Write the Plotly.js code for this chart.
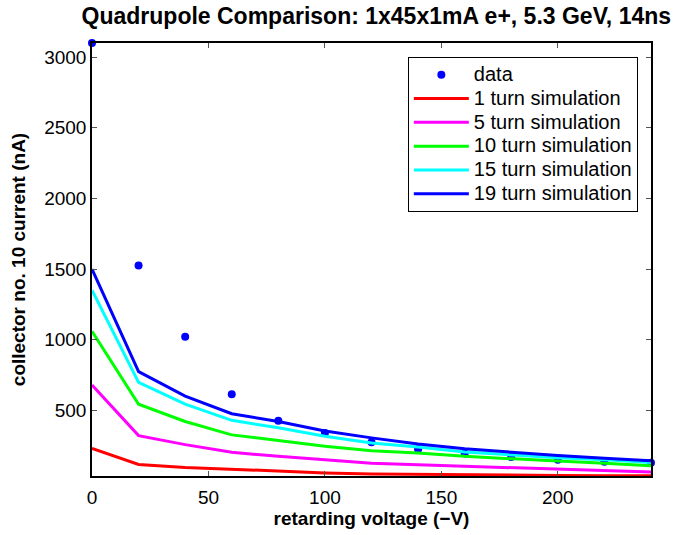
<!DOCTYPE html>
<html><head><meta charset="utf-8">
<script src="https://cdn.plot.ly/plotly-3.0.1.min.js"></script>
<style>body{margin:0;padding:0;background:#fff}#chart{width:683px;height:535px}</style>
</head><body><div id="chart"></div>
<script>
const voltage = [0, 20, 40, 60, 80, 100, 120, 140, 160, 180, 200, 220, 240];
const dataCurrent = [3100, 1525, 1021, 614, 426, 340, 274, 225, 195, 170, 150, 136, 128];
const sim1 = [231, 117, 96, 84, 67, 57, 50, 46, 43, 41, 39, 37, 36];
const sim5 = [679, 321, 257, 203, 174, 150, 126, 114, 104, 95, 84, 72, 64];
const sim10 = [1060, 543, 421, 326, 286, 246, 214, 198, 174, 155, 141, 126, 107];
const sim15 = [1350, 698, 543, 429, 376, 317, 269, 240, 205, 184, 164, 150, 131];
const sim19 = [1500, 774, 600, 476, 421, 353, 305, 262, 228, 203, 180, 160, 143];
const dataName = 'data';
const seriesNames = ['1 turn simulation', '5 turn simulation', '10 turn simulation', '15 turn simulation', '19 turn simulation'];
const seriesColors = ['#ff0000', '#ff00ff', '#00ff00', '#00ffff', '#0000ff'];
const xTicks = [0, 50, 100, 150, 200];
const yTicks = [500, 1000, 1500, 2000, 2500, 3000];

const font = 'Liberation Sans, Arial, Helvetica, sans-serif';
const big = s => '<span style="font-size:20px">' + s + '</span>';
const sims = [sim1, sim5, sim10, sim15, sim19];
const traces = [{
  x: voltage, y: dataCurrent, name: big(dataName), mode: 'markers', type: 'scatter',
  marker: {color: '#0000ff', size: 8}, cliponaxis: false
}];
sims.forEach((s, i) => traces.push({
  x: voltage, y: s, name: big(seriesNames[i]), mode: 'lines', type: 'scatter',
  line: {color: seriesColors[i], width: 3}, cliponaxis: false
}));

const axisCommon = {
  showline: true, linecolor: '#000', linewidth: 1.5, mirror: 'ticks',
  ticks: 'inside', ticklen: 5, tickcolor: '#555', showgrid: false, zeroline: false,
  tickfont: {family: font, size: 19, color: '#000'}
};
const layout = {
  width: 683, height: 535,
  margin: {l: 92, r: 32, t: 43, b: 59},
  paper_bgcolor: '#fff', plot_bgcolor: '#fff',
  showlegend: true,
  title: {text: 'Quadrupole Comparison: 1x45x1mA e+, 5.3 GeV, 14ns', x: 0.551, xanchor: 'center', y: 0.985, yanchor: 'top',
          font: {family: font, size: 23, color: '#000', weight: 'bold'}},
  xaxis: Object.assign({}, axisCommon, {
    range: [0, 240], tickvals: xTicks, ticktext: xTicks.map(String), ticklabelstandoff: 3,
    title: {text: 'retarding voltage (\u2212V)', standoff: 3, font: {family: font, size: 19, color: '#000', weight: 'bold'}}
  }),
  yaxis: Object.assign({}, axisCommon, {
    range: [35, 3100], tickvals: yTicks, ticktext: yTicks.map(String),
    title: {text: 'collector no. 10 current (nA)', standoff: 14, font: {family: font, size: 19, color: '#000', weight: 'bold'}}
  }),
  legend: {x: 0.565, y: 0.968, xanchor: 'left', yanchor: 'top', bgcolor: '#fff',
           bordercolor: '#000', borderwidth: 1, itemwidth: 55, tracegroupgap: 0,
           font: {family: font, size: 16, color: '#000'}}
};
Plotly.newPlot('chart', traces, layout, {displayModeBar: false});
</script></body></html>
